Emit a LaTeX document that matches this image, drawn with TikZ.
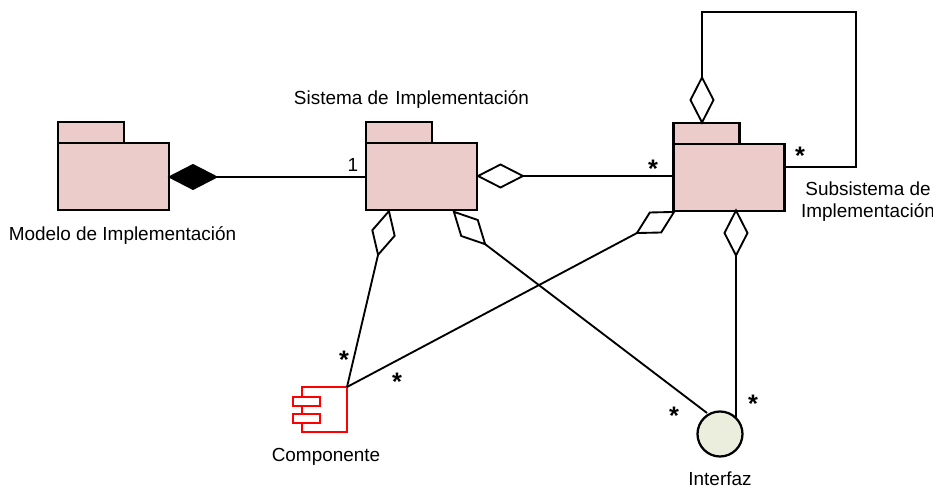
\documentclass[tikz,border=0pt]{standalone}
\usepackage{fontspec}
\setmainfont{Liberation Sans}
\usetikzlibrary{shapes.geometric}
\definecolor{pkgpink}{HTML}{EBCCCA}
\definecolor{ifacegreen}{HTML}{EBEEDD}
\tikzset{
  pkgbody/.style={draw=black,fill=pkgpink,line width=1.7pt,minimum width=83.25pt,minimum height=50.25pt,inner sep=0pt,outer sep=0pt},
  pkgtab/.style={draw=black,fill=pkgpink,line width=1.7pt,minimum width=49.5pt,minimum height=16pt,inner sep=0pt,outer sep=0pt,anchor=south west},
  aggr/.style={diamond,draw=black,fill=white,line width=1.4pt,minimum width=33.75pt,minimum height=17.25pt,inner sep=0pt,outer sep=0pt},
  comp/.style={aggr,fill=black,minimum width=35pt,minimum height=18pt},
  assoc/.style={line width=1.4pt},
  compbody/.style={draw=red,fill=white,line width=1.4pt,minimum width=33.75pt,minimum height=33.75pt,inner sep=0pt,outer sep=0pt},
  compport/.style={draw=red,fill=white,line width=1.4pt,minimum width=20.25pt,minimum height=6.75pt,inner sep=0pt,outer sep=0pt},
  lbl/.style={font=\fontsize{14.2}{16.4}\selectfont,inner sep=0pt,align=center},
  mult/.style={font=\fontsize{19}{19}\bfseries\selectfont,inner sep=0pt}
}
\begin{document}
\begin{tikzpicture}[x=0.75pt,y=0.75pt]
\useasboundingbox (0,0) rectangle (933,488);

% packages
\node[pkgbody] (modelo) at (113.5,311.5) {};
\node[pkgtab] (modeloTab) at (modelo.north west) {};
\node[pkgbody] (sistema) at (421.5,311.5) {};
\node[pkgtab] (sistemaTab) at (sistema.north west) {};
\node[pkgbody] (subsis) at (729,310.25) {};
\node[pkgtab] (subsisTab) at (subsis.north west) {};

% component and interface
\node[compbody] (compo) at (324.5,78.5) {};
\node[compport] (portA) at (306.5,86.5) {};
\node[compport] (portB) at (306.5,69.5) {};
\node[circle,draw=black,fill=ifacegreen,line width=1.7pt,minimum size=33.75pt,inner sep=0pt,outer sep=0pt] (iface) at (720,54) {};

% diamonds, east anchor is the tail
\node[comp] (dModelo) at (193,311) {};
\node[aggr] (dSistSub) at (500.5,312) {};
\node[aggr,rotate=90] (dSelf) at (702,388) {};
\node[aggr,rotate=-90] (dSubIface) at (736,255) {};
\node[aggr,rotate=256] (dSistComp) at (383.5,255) {};
\node[aggr,rotate=-46] (dSistIface) at (469.5,260) {};
\node[aggr,rotate=209.6,minimum width=32pt] (dSubComp) at (655.5,265.5) {};

% free points of the loop
\coordinate (loopTop) at (856,476);
\coordinate (loopEnd) at (784.5,321.3);
\coordinate (ifaceTop) at (736,71);
\coordinate (ifaceLeft) at (707,75);

\draw[assoc] (dModelo.east) -- (sistema.west |- dModelo.east);
\draw[assoc] (dSistSub.east) -- (subsis.west |- dSistSub.east);
\draw[assoc] (dSelf.east) |- (loopTop) |- (loopEnd);
\draw[assoc] (dSistComp.east) -- (compo.north east);
\draw[assoc] (dSubComp.east) -- (compo.north east);
\draw[assoc] (dSubIface.east) -- (ifaceTop);
\draw[assoc] (dSistIface.east) -- (ifaceLeft);

% labels
\node[lbl] (lblModelo) at (122.5,252) {Modelo de Implementación};
\node[lbl] (lblSistema) at (411.5,388) {Sistema de\hspace{5pt}Implementación};
\node[lbl] (lblSubsis) at (868,286.5) {Subsistema de\\Implementación};
\node[lbl] (lblCompo) at (326,31) {Componente};
\node[lbl] (lblIface) at (720,9.5) {Interfaz};
\node[lbl] (multUno) at (353,323) {1};
\node[mult] (multSist) at (653,319) {*};
\node[mult] (multSelf) at (800,332) {*};
\node[mult] (multCompA) at (344,128) {*};
\node[mult] (multCompB) at (397,106) {*};
\node[mult] (multIfaceA) at (674,72) {*};
\node[mult] (multIfaceB) at (753,84) {*};

\end{tikzpicture}
\end{document}
